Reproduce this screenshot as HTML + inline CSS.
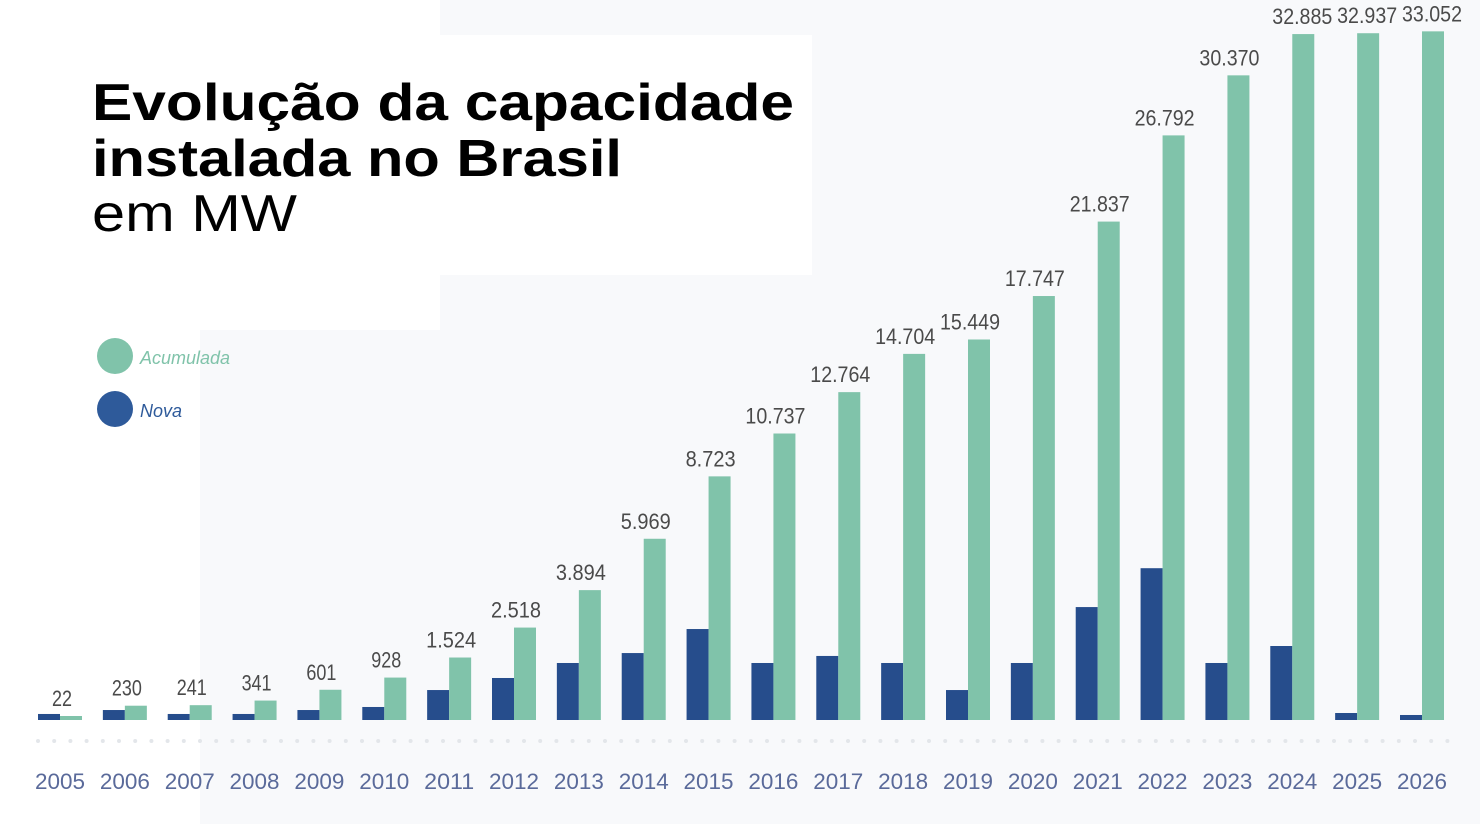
<!DOCTYPE html>
<html><head><meta charset="utf-8"><style>
html,body{margin:0;padding:0;background:#fff;}
svg{display:block;font-family:"Liberation Sans",sans-serif;}
</style></head><body>
<svg id="c" width="1480" height="824" viewBox="0 0 1480 824">
<rect x="0" y="0" width="1480" height="824" fill="#f8f9fb"/>
<rect x="0" y="0" width="440" height="330" fill="#ffffff"/>
<rect x="0" y="330" width="200" height="494" fill="#ffffff"/>
<rect x="0" y="35" width="812" height="240" fill="#ffffff"/>
<text x="92" y="120" font-size="52" font-weight="bold" fill="#000" textLength="702" lengthAdjust="spacingAndGlyphs">Evolução da capacidade</text>
<text x="92" y="176" font-size="52" font-weight="bold" fill="#000" textLength="530" lengthAdjust="spacingAndGlyphs">instalada no Brasil</text>
<text x="92" y="231" font-size="52" fill="#000" textLength="205" lengthAdjust="spacingAndGlyphs">em MW</text>
<g>
<circle cx="115" cy="356" r="18" fill="#80c3aa"/>
<text x="140" y="364" font-size="18" font-style="italic" fill="#80c3aa">Acumulada</text>
<circle cx="115" cy="409" r="18" fill="#2e5a9a"/>
<text x="140" y="417" font-size="18" font-style="italic" fill="#2e5a9a">Nova</text>
</g>
<g id="dots"></g>
<g id="bars"></g>
</svg>
<script>
const years=["2005","2006","2007","2008","2009","2010","2011","2012","2013","2014","2015","2016","2017","2018","2019","2020","2021","2022","2023","2024","2025","2026"];
const acumulada=[22,230,241,341,601,928,1524,2518,3894,5969,8723,10737,12764,14704,15449,17747,21837,26792,30370,32885,32937,33052];
const nova=[76,145,76,76,145,204,594,916,1355,1665,2467,1355,1573,1355,594,1355,3255,4756,1355,1893,92,60];
const acumLabels=["22","230","241","341","601","928","1.524","2.518","3.894","5.969","8.723","10.737","12.764","14.704","15.449","17.747","21.837","26.792","30.370","32.885","32.937","33.052"];

const baseY=720, x0=60, step=(1422-60)/21, bw=22;
function xPos(i){return x0+i*step;}
function h(v){return 0.2056*Math.pow(v,0.78);}
const NS="http://www.w3.org/2000/svg";
const bars=document.getElementById('bars');
function mk(tag,attrs){const e=document.createElementNS(NS,tag);for(const k in attrs)e.setAttribute(k,attrs[k]);return e;}

const dots=document.getElementById('dots');
for(let x=38;x<1450;x+=16.2){
  const d=mk('circle',{cx:x,cy:741,r:2,fill:'#e3e6ea'});
  
  
  dots.appendChild(d);
}

years.forEach((y,i)=>{
  const cx=xPos(i);
  const hn=Math.max(h(nova[i]),4);
  const n=mk('rect',{x:cx-bw,y:baseY-hn,width:bw,height:hn,fill:'#264d8c'});
  
  
  bars.appendChild(n);
  const ha=Math.max(h(acumulada[i]),4);
  const a=mk('rect',{x:cx,y:baseY-ha,width:bw,height:ha,fill:'#80c3aa'});
  
  
  bars.appendChild(a);
  const t=mk('text',{x:cx+(i>=19?10:2),y:baseY-ha-10,'font-size':22,fill:'#4a4a4a','text-anchor':'middle',textLength:acumLabels[i].length*10,lengthAdjust:'spacingAndGlyphs'});
  t.textContent=acumLabels[i];
  
  
  bars.appendChild(t);
  const yl=mk('text',{x:cx,y:789,'font-size':22,fill:'#5a6a9a','text-anchor':'middle',textLength:50,lengthAdjust:'spacingAndGlyphs'});
  yl.textContent=y;
  
  
  bars.appendChild(yl);
});
</script>
</body></html>
